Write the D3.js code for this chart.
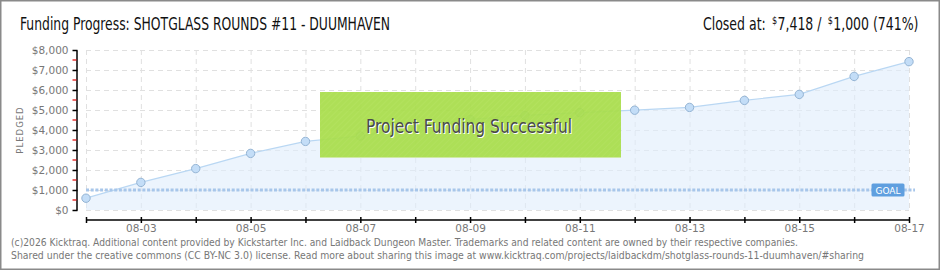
<!DOCTYPE html>
<html>
<head>
<meta charset="utf-8">
<script src="https://cdn.jsdelivr.net/npm/d3@7"></script>
<style>
  html, body { margin: 0; padding: 0; background: #fff; }
  svg { display: block; }
</style>
</head>
<body>
<script>
// ---- data ----
const dates = ["08-02","08-03","08-04","08-05","08-06","08-07","08-08","08-09","08-10","08-11","08-12","08-13","08-14","08-15","08-16","08-17"];
const pledged = [590, 1380, 2070, 2830, 3430, 3700, 4150, 4530, 4730, 4870, 4990, 5130, 5480, 5780, 6680, 7418];
const goal = 1000;
const yTicks = [0, 1000, 2000, 3000, 4000, 5000, 6000, 7000, 8000];
const yMinorTicks = [500, 1500, 2500, 3500, 4500, 5500, 6500, 7500];
const titleText = "Funding Progress: SHOTGLASS ROUNDS #11 - DUUMHAVEN";
const closedParts = [
  { t: "Closed at:", sup: false, gap: 7 },
  { t: "$", sup: true, gap: 0 },
  { t: "7,418 /", sup: false, gap: 7 },
  { t: "$", sup: true, gap: 0 },
  { t: "1,000 (741%)", sup: false, gap: 0 }
];
const bannerText = "Project Funding Successful";
const footerLines = [
  "(c)2026 Kicktraq. Additional content provided by Kickstarter Inc. and Laidback Dungeon Master. Trademarks and related content are owned by their respective companies.",
  "Shared under the creative commons (CC BY-NC 3.0) license. Read more about sharing this image at www.kicktraq.com/projects/laidbackdm/shotglass-rounds-11-duumhaven/#sharing"
];

const W = 940, H = 270;
const condensed = "'Liberation Sans Narrow','DejaVu Sans Condensed','Roboto Condensed',sans-serif";
const small = "'DejaVu Sans',Verdana,sans-serif";

const svg = d3.select("body").append("svg").attr("width", W).attr("height", H);

// frame
svg.append("rect").attr("x", 0.75).attr("y", 0.75).attr("width", W - 1.5).attr("height", H - 1.5)
  .attr("fill", "#fff").attr("stroke", "#8a8a8a").attr("stroke-width", 1.5);

const x = d3.scalePoint().domain(dates).range([86, 909]);
const y = d3.scaleLinear().domain([0, 8000]).range([210, 50]);

// grid
const grid = svg.append("g");
grid.selectAll("line.h").data(yTicks).join("line")
  .attr("x1", 86).attr("x2", 909).attr("y1", d => y(d) + 0.5).attr("y2", d => y(d) + 0.5)
  .attr("stroke", "#e0e0e0").attr("stroke-dasharray", "5,4");
grid.selectAll("line.v").data(dates).join("line")
  .attr("y1", 50).attr("y2", 210).attr("x1", d => x(d) + 0.5).attr("x2", d => x(d) + 0.5)
  .attr("stroke", "#e0e0e0").attr("stroke-dasharray", "5,4");

// area + line
const pts = dates.map((d, i) => [x(d), y(pledged[i])]);
svg.append("path")
  .attr("d", d3.area().x(d => d[0]).y0(y(0)).y1(d => d[1])(pts))
  .attr("fill", "#dfedfb").attr("fill-opacity", 0.6);
svg.append("path")
  .attr("d", d3.line()(pts))
  .attr("fill", "none").attr("stroke", "#b9d7f3").attr("stroke-width", 1.2);

// goal line
svg.append("line")
  .attr("x1", 86).attr("x2", 915).attr("y1", y(goal)).attr("y2", y(goal))
  .attr("stroke", "#a7c6ea").attr("stroke-width", 3).attr("stroke-dasharray", "3,1.7");

// points
svg.selectAll("circle.pt").data(pts).join("circle")
  .attr("cx", d => d[0]).attr("cy", d => d[1]).attr("r", 4.2)
  .attr("fill", "#c3ddf7").attr("stroke", "#94b4d4").attr("stroke-width", 1);

// GOAL tag
svg.append("rect").attr("x", 871.5).attr("y", y(goal) - 6.5).attr("width", 33).attr("height", 13).attr("rx", 1.5)
  .attr("fill", "#5f9fdf");
svg.append("text").attr("x", 888).attr("y", y(goal) + 3.5).attr("text-anchor", "middle")
  .attr("font-family", small).attr("font-size", 9).attr("fill", "#fff").text("GOAL");

// success banner
const defs = svg.append("defs");
const pat = defs.append("pattern").attr("id", "stripes").attr("patternUnits", "userSpaceOnUse")
  .attr("width", 4).attr("height", 4).attr("patternTransform", "rotate(45)");
pat.append("rect").attr("width", 4).attr("height", 4).attr("fill", "#a8dd4a");
pat.append("line").attr("x1", 0).attr("y1", 0).attr("x2", 0).attr("y2", 4).attr("stroke", "#b0e157").attr("stroke-width", 1.2);
svg.append("rect").attr("x", 320).attr("y", 92).attr("width", 301).attr("height", 66)
  .attr("fill", "url(#stripes)").attr("opacity", 0.93);
svg.append("line").attr("x1", 320).attr("x2", 621).attr("y1", 157.5).attr("y2", 157.5)
  .attr("stroke", "#cfe9a4").attr("stroke-width", 1);
const bannerG = svg.append("g");
bannerG.append("text").attr("x", 367).attr("y", 134)
  .attr("font-family", condensed).attr("font-size", 20).attr("fill", "#fff")
  .attr("textLength", 206).attr("lengthAdjust", "spacingAndGlyphs").text(bannerText);
bannerG.append("text").attr("x", 366).attr("y", 133)
  .attr("font-family", condensed).attr("font-size", 20).attr("fill", "#4a4a4a")
  .attr("textLength", 206).attr("lengthAdjust", "spacingAndGlyphs").text(bannerText);

// y axis
const yAxis = d3.axisLeft(y).tickValues(yTicks).tickSize(4).tickSizeOuter(0).tickPadding(4)
  .tickFormat(d => "$" + d3.format(",")(d));
const gy = svg.append("g").attr("transform", "translate(76.5,0)").call(yAxis);
gy.select(".domain").attr("stroke", "#000").attr("stroke-width", 1.5);
gy.selectAll(".tick line").attr("stroke", "#000").attr("stroke-width", 1.5).attr("x1", 1);
gy.selectAll(".tick text").attr("font-family", small).attr("font-size", 10.5).attr("fill", "#777");
gy.selectAll("line.minor").data(yMinorTicks).join("line").attr("class", "minor")
  .attr("x1", -4).attr("x2", 0).attr("y1", d => y(d)).attr("y2", d => y(d))
  .attr("stroke", "#e00000").attr("stroke-width", 1.2);

svg.append("text").attr("transform", "translate(23,130) rotate(-90)").attr("text-anchor", "middle")
  .attr("font-family", small).attr("font-size", 8.5).attr("fill", "#777").attr("letter-spacing", 1)
  .text("PLEDGED");

// x axis
const xAxis = d3.axisBottom(x).tickSize(4).tickSizeOuter(0).tickPadding(4)
  .tickFormat((d, i) => i % 2 === 1 ? d : "");
const gx = svg.append("g").attr("transform", "translate(0,220)").call(xAxis);
gx.select(".domain").attr("stroke", "#000").attr("stroke-width", 1.5).attr("d", "M86,0H909");
gx.selectAll(".tick line").attr("stroke", "#000").attr("stroke-width", 1.5).attr("y1", -3).attr("y2", 3);
gx.selectAll(".tick text").attr("font-family", small).attr("font-size", 10.5).attr("fill", "#777").attr("y", 5);

// title
svg.append("text").attr("x", 20).attr("y", 30)
  .attr("font-family", condensed).attr("font-size", 17).attr("fill", "#111")
  .attr("textLength", 370).attr("lengthAdjust", "spacingAndGlyphs").text(titleText);

// closed at: separate texts side by side, then squeezed to span 703..919
const targetLeft = 703, targetRight = 919;
const closedG = svg.append("g");
let cx = 0;
closedParts.forEach(p => {
  const t = closedG.append("text")
    .attr("x", cx).attr("y", p.sup ? 24 : 30)
    .attr("font-family", condensed).attr("font-size", p.sup ? 11 : 17)
    .attr("fill", "#111").text(p.t);
  cx += t.node().getComputedTextLength() + p.gap + 0.5;
});
const k = (targetRight - targetLeft) / cx;
closedG.attr("transform", `translate(${targetLeft},0) scale(${k},1)`);

// footer
svg.selectAll("text.foot").data(footerLines).join("text").attr("class", "foot")
  .attr("x", 11).attr("y", (d, i) => 246 + i * 12.5)
  .attr("font-family", small).attr("font-size", 10).attr("fill", "#777")
  .attr("textLength", (d, i) => i === 0 ? 787 : 853).attr("lengthAdjust", "spacingAndGlyphs")
  .text(d => d);
</script>
</body>
</html>
